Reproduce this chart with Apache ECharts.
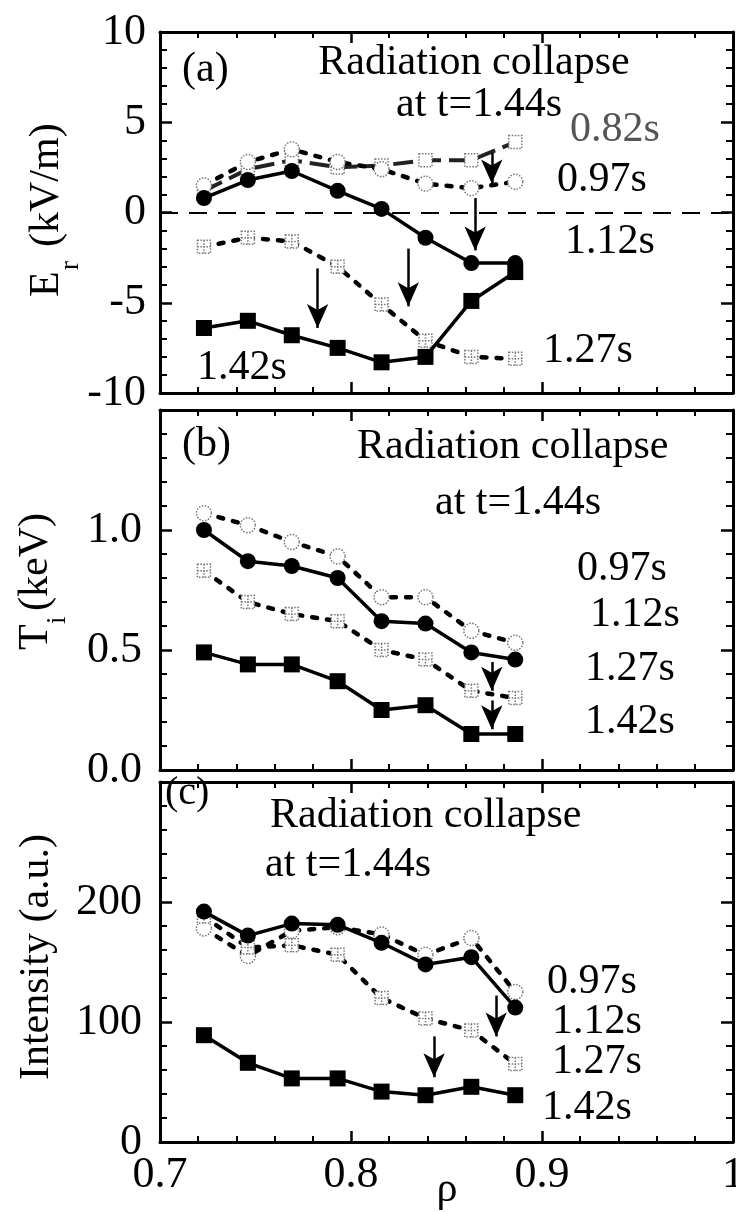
<!DOCTYPE html>
<html>
<head>
<meta charset="utf-8">
<script src="https://cdn.jsdelivr.net/npm/echarts@6/dist/echarts.min.js"></script>
<style>
html,body{margin:0;padding:0;background:#fff;}
#main{width:736px;height:1212px;}
</style>
</head>
<body>
<div id="main"></div>
<script>
// ---- data ----
const rho = [0.723, 0.746, 0.769, 0.793, 0.816, 0.839, 0.863, 0.886];

// (a) Er (kV/m)
const erT082 = [1.2, 2.4, 2.9, 2.5, 2.6, 2.9, 2.9, 3.9];
const erT097 = [1.5, 2.8, 3.5, 2.8, 2.4, 1.6, 1.35, 1.7];
const erT112 = [0.8, 1.8, 2.3, 1.2, 0.2, -1.4, -2.8, -2.8];
const erT127 = [-1.9, -1.4, -1.6, -3.0, -5.1, -7.1, -8.0, -8.1];
const erT142 = [-6.4, -6.0, -6.8, -7.5, -8.3, -8.0, -4.9, -3.3];

// (b) Ti (keV)
const tiT097 = [1.07, 1.02, 0.95, 0.89, 0.72, 0.72, 0.58, 0.53];
const tiT112 = [1.00, 0.87, 0.85, 0.80, 0.62, 0.61, 0.49, 0.46];
const tiT127 = [0.83, 0.70, 0.65, 0.62, 0.50, 0.46, 0.33, 0.30];
const tiT142 = [0.49, 0.44, 0.44, 0.37, 0.25, 0.27, 0.15, 0.15];

// (c) Intensity (a.u.)
const inT097 = [178, 155, 176, 179, 173, 156, 170, 125];
const inT112 = [192, 172, 182, 181, 166, 148, 154, 112];
const inT127 = [188, 162, 164, 156, 120, 103, 93, 65];
const inT142 = [89, 66, 53, 53, 42, 39, 46, 39];

// arrows: [rho, from, to] in data units
const arrowsA = [[0.8737, 3.3, 1.6], [0.865, 0.8, -2.1], [0.830, -2.0, -5.2], [0.7825, -3.1, -6.4]];
const arrowsB = [[0.8737, 0.45, 0.33], [0.8737, 0.29, 0.17]];
const arrowsC = [[0.876, 122, 88], [0.8435, 88, 54]];

// axis ranges / ticks
const xTicks = {min: 0.7, max: 1.0, interval: 0.1};
const yA = {min: -10, max: 10, interval: 5};
const yB = {min: 0, max: 1.5, interval: 0.5};
const yC = {min: 0, max: 300, interval: 100};

// ---- chart ----
const FONT = '"Liberation Serif", "Times New Roman", "DejaVu Serif", serif';
const chart = echarts.init(document.getElementById('main'), null, {renderer: 'canvas'});

function xAxisCfg(grid, position, showLabel) {
  return {
    type: 'value', gridIndex: grid, position: position,
    min: xTicks.min, max: xTicks.max, interval: xTicks.interval,
    axisLine: {show: true, onZero: false, lineStyle: {color: '#000', width: 3}},
    axisTick: {show: true, inside: true, length: 11, lineStyle: {color: '#000', width: 2.5}},
    minorTick: {show: true, splitNumber: 5, length: 6, lineStyle: {color: '#000', width: 2}},
    splitLine: {show: false}, minorSplitLine: {show: false},
    axisLabel: {
      show: showLabel, margin: 11, color: '#000', fontFamily: FONT, fontSize: 44,
      showMinLabel: true, showMaxLabel: true,
      formatter: v => Math.abs(v - 1) < 1e-9 ? '1' : v.toFixed(1)
    }
  };
}
function yAxisCfg(grid, position, rng, showLabel, fmt, margin, pad) {
  return {
    type: 'value', gridIndex: grid, position: position,
    min: rng.min, max: rng.max, interval: rng.interval,
    axisLine: {show: true, onZero: false, lineStyle: {color: '#000', width: 3}},
    axisTick: {show: true, inside: true, length: 12, lineStyle: {color: '#000', width: 2.5}},
    minorTick: {show: true, splitNumber: 5, length: 7, lineStyle: {color: '#000', width: 2}},
    splitLine: {show: false}, minorSplitLine: {show: false},
    axisLabel: {
      show: showLabel, margin: margin, color: '#000', fontFamily: FONT, fontSize: 44,
      showMinLabel: true, showMaxLabel: true, formatter: fmt, padding: pad
    }
  };
}

const dashed = {color: '#000', width: 4.5, type: [5, 10], cap: 'round'};
const solid = {color: '#000', width: 3.5, type: 'solid'};
const longDash = {color: '#222', width: 4, type: [20, 8]};
const openItem = {color: '#fff', borderColor: '#777', borderWidth: 1.5, borderType: 'dotted'};
const crossSq = 'path://M0,0L10,0L10,10L0,10Z M5,0L5,10 M0,5L10,5';

function ser(name, ax, vals, kind, extra) {
  const s = {
    name: name, type: 'line', xAxisIndex: ax, yAxisIndex: ax,
    data: rho.map((r, i) => [r, vals[i]]),
    silent: true, emphasis: {disabled: true}, showSymbol: true,
    z: 2
  };
  if (kind === 'fc') { s.symbol = 'circle'; s.symbolSize = 16; s.itemStyle = {color: '#000'}; s.lineStyle = solid; s.z = 4; }
  if (kind === 'fs') { s.symbol = 'rect'; s.symbolSize = 16; s.itemStyle = {color: '#000'}; s.lineStyle = solid; s.z = 4; }
  if (kind === 'oc') { s.symbol = 'circle'; s.symbolSize = 15; s.itemStyle = openItem; s.lineStyle = dashed; }
  if (kind === 'xs') { s.symbol = crossSq; s.symbolSize = 13; s.itemStyle = openItem; s.lineStyle = dashed; }
  if (kind === 'os') { s.symbol = 'rect'; s.symbolSize = 13; s.itemStyle = openItem; s.lineStyle = longDash; }
  return Object.assign(s, extra || {});
}
function arrowMark(list) {
  return {
    silent: true, symbol: ['none', 'arrow'], symbolSize: [16, 24],
    label: {show: false}, emphasis: {disabled: true},
    lineStyle: {color: '#000', width: 2.5, type: 'solid'},
    data: list.map(a => [{coord: [a[0], a[1]]}, {coord: [a[0], a[2]]}])
  };
}

function txt(s, x, y, opts) {
  opts = opts || {};
  return {
    type: 'text', x: x, y: y, silent: true, z: 100,
    style: {
      text: s, fill: opts.fill || '#000',
      font: (opts.size || 42) + 'px ' + FONT,
      align: opts.align || 'left', verticalAlign: 'middle',
      textAlign: opts.align || 'left', textVerticalAlign: 'middle'
    }
  };
}

const fmtA = v => String(v);
const fmtB = v => v > 1.49 ? '' : v.toFixed(1);
const fmtC = v => v > 299 ? '' : String(v);

const option = {
  animation: false,
  backgroundColor: '#fff',
  grid: [
    {left: 160, top: 32, width: 573, height: 361, outerBoundsMode: 'none', containLabel: false},
    {left: 160, top: 410, width: 573, height: 360, outerBoundsMode: 'none', containLabel: false},
    {left: 160, top: 782, width: 573, height: 360, outerBoundsMode: 'none', containLabel: false}
  ],
  xAxis: [
    xAxisCfg(0, 'bottom', false), xAxisCfg(0, 'top', false),
    xAxisCfg(1, 'bottom', false), xAxisCfg(1, 'top', false),
    xAxisCfg(2, 'bottom', true), xAxisCfg(2, 'top', false)
  ],
  yAxis: [
    yAxisCfg(0, 'left', yA, true, fmtA, 14, [0, 0, 10, 0]), yAxisCfg(0, 'right', yA, false, fmtA, 8, 0),
    yAxisCfg(1, 'left', yB, true, fmtB, 18, 0), yAxisCfg(1, 'right', yB, false, fmtB, 8, 0),
    yAxisCfg(2, 'left', yC, true, fmtC, 18, 0), yAxisCfg(2, 'right', yC, false, fmtC, 8, 0)
  ],
  series: [
    // (a)
    ser('0.82s', 0, erT082, 'os'),
    ser('0.97s', 0, erT097, 'oc'),
    ser('1.27s', 0, erT127, 'xs', {
      markLine: {
        silent: true, symbol: ['none', 'none'], label: {show: false}, emphasis: {disabled: true},
        lineStyle: {color: '#000', width: 2, type: [18, 11]},
        data: [{yAxis: 0}]
      }
    }),
    ser('1.12s', 0, erT112, 'fc'),
    ser('1.42s', 0, erT142, 'fs', {markLine: arrowMark(arrowsA)}),
    // (b)
    ser('0.97s', 2, tiT097, 'oc'),
    ser('1.27s', 2, tiT127, 'xs'),
    ser('1.12s', 2, tiT112, 'fc'),
    ser('1.42s', 2, tiT142, 'fs', {markLine: arrowMark(arrowsB)}),
    // (c)
    ser('0.97s', 4, inT097, 'oc'),
    ser('1.27s', 4, inT127, 'xs'),
    ser('1.12s', 4, inT112, 'fc'),
    ser('1.42s', 4, inT142, 'fs', {markLine: arrowMark(arrowsC)})
  ],
  graphic: {
    elements: [
      // panel (a)
      txt('(a)', 182, 70),
      txt('Radiation collapse', 474, 63, {align: 'center'}),
      txt('at t=1.44s', 479, 105, {align: 'center'}),
      txt('0.82s', 570, 130, {fill: '#555'}),
      txt('0.97s', 557, 180),
      txt('1.12s', 565, 242),
      txt('1.27s', 543, 351),
      txt('1.42s', 197, 368),
      // panel (b)
      txt('(b)', 182, 445),
      txt('Radiation collapse', 357, 447),
      txt('at t=1.44s', 435, 503),
      txt('0.97s', 577, 569),
      txt('1.12s', 590, 615),
      txt('1.27s', 585, 669),
      txt('1.42s', 585, 722),
      // panel (c)
      txt('(c)', 165, 793, {size: 40}),
      txt('Radiation collapse', 270, 816),
      txt('at t=1.44s', 265, 865),
      txt('0.97s', 547, 982),
      txt('1.12s', 552, 1022),
      txt('1.27s', 552, 1062),
      txt('1.42s', 542, 1108),
      // x-axis name
      txt('ρ', 447, 1190, {align: 'center'}),
      // y-axis names (rotated)
      {
        type: 'group', x: 47, y: 297, rotation: Math.PI / 2, silent: true,
        children: [txt('E', 0, 0), txt('r', 27, 24, {size: 27}), txt('(kV/m)', 50, 0)]
      },
      {
        type: 'group', x: 36, y: 650, rotation: Math.PI / 2, silent: true,
        children: [txt('T', 0, 0), txt('i', 26, 22, {size: 27}), txt('(keV)', 39, 0)]
      },
      {
        type: 'group', x: 37, y: 957, rotation: Math.PI / 2, silent: true,
        children: [txt('Intensity (a.u.)', 0, 0, {align: 'center'})]
      }
    ]
  }
};
chart.setOption(option);
</script>
</body>
</html>
